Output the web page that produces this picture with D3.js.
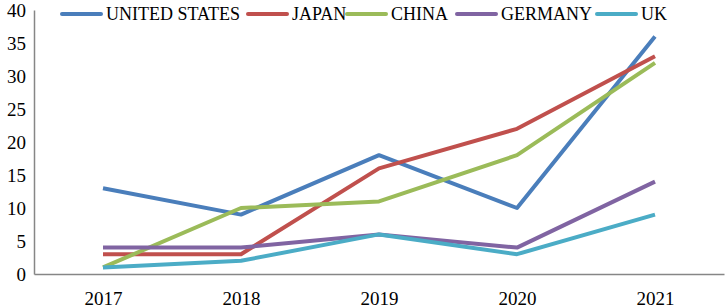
<!DOCTYPE html>
<html>
<head>
<meta charset="utf-8">
<script src="https://cdn.jsdelivr.net/npm/d3@7"></script>
<style>
  body { margin: 0; background: #fff; }
</style>
</head>
<body>
<script>
var width = 726,
    height = 308,
    marginLeft = 34,
    marginRight = 2,
    marginTop = 10,
    marginBottom = 34
;

var years = ["2017", "2018", "2019", "2020", "2021"];
var seriesNames = ["UNITED STATES", "JAPAN", "CHINA", "GERMANY", "UK"];
var seriesColors = ["#4a7ebb", "#c0504d", "#9bbb59", "#8064a2", "#4bacc6"];
var unitedStates = [13, 9, 18, 10, 36];
var japan = [3, 3, 16, 22, 33];
var china = [1, 10, 11, 18, 32];
var germany = [4, 4, 6, 4, 14];
var uk = [1, 2, 6, 3, 9];
var yTicks = [0, 5, 10, 15, 20, 25, 30, 35, 40];

var seriesValues = [unitedStates, japan, china, germany, uk];
var serif = "Liberation Serif, DejaVu Serif, serif";

var svg = d3.select("body").append("svg")
    .attr("width", width)
    .attr("height", height)
    .attr("font-family", serif)
;

var x = d3.scalePoint()
    .domain(years)
    .range([marginLeft, width - marginRight])
    .padding(0.5)
;

var y = d3.scaleLinear()
    .domain([0, 40])
    .range([height - marginBottom, marginTop])
;

// axes
var xAxis = d3.axisBottom(x).tickSize(0).tickPadding(18);
var gx = svg.append("g")
    .attr("transform", `translate(0,${y(0)})`)
    .call(xAxis)
    .attr("font-family", serif)
    .attr("font-size", 19);
gx.select(".domain").attr("stroke", "#868686").attr("stroke-width", 1.5);

var yAxis = d3.axisLeft(y).tickValues(yTicks).tickSize(0).tickPadding(8);
var gy = svg.append("g")
    .attr("transform", `translate(${marginLeft},0)`)
    .call(yAxis)
    .attr("font-family", serif)
    .attr("font-size", 19);
gy.select(".domain").attr("stroke", "#868686").attr("stroke-width", 1.5);

// lines
var line = d3.line()
    .x(function(d, i) { return x(years[i]); })
    .y(function(d) { return y(d); })
;

for (i = 0; i < seriesValues.length; i++) {
    svg.append("path")
        .datum(seriesValues[i])
        .attr("d", line)
        .attr("fill", "none")
        .attr("stroke", seriesColors[i])
        .attr("stroke-width", 4)
        .attr("stroke-linejoin", "round")
    ;
}

// legend
var legendX = [62, 248, 347, 457, 597];
var legend = svg.append("g").attr("transform", "translate(0,14)");
for (i = 0; i < seriesNames.length; i++) {
    legend.append("line")
        .attr("x1", legendX[i])
        .attr("x2", legendX[i] + 39)
        .attr("y1", 0)
        .attr("y2", 0)
        .attr("stroke", seriesColors[i])
        .attr("stroke-width", 4)
        .attr("stroke-linecap", "round")
    ;
    legend.append("text")
        .attr("x", legendX[i] + 44)
        .attr("y", 0)
        .attr("dy", "0.35em")
        .attr("font-size", 18)
        .text(seriesNames[i])
    ;
}
</script>
</body>
</html>
